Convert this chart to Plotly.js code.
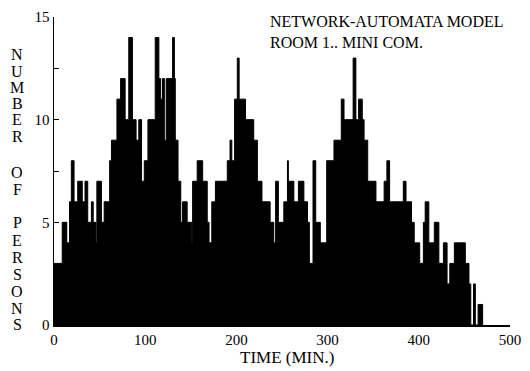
<!DOCTYPE html>
<html>
<head>
<meta charset="utf-8">
<script src="https://cdn.plot.ly/plotly-3.0.1.min.js"></script>
<style>
html,body{margin:0;padding:0;background:#fff;}
#chart{width:530px;height:371px;}
</style>
</head>
<body>
<div id="chart"></div>
<script>
// Step start times (minutes) and number of persons from that time on
const stepTimes = [0,9,14,17,19,22,26,31,34,37,41,43,46,47,52,55,61,63,69,73,78,82,86,90,93,96,99,103,111,115,117,119,121,123,130,132,133,136,139,141,146,151,152,157,163,168,170,173,177,190,193,195,198,201,203,210,219,223,228,237,241,243,246,252,256,257,263,268,274,278,280,284,287,292,299,307,315,318,328,331,334,338,340,344,353,362,365,368,383,386,392,395,401,405,407,411,417,422,427,431,434,439,451,455,457,460,462,465,470];
const persons = [3,5,4,6,8,6,7,6,7,5,6,5,4,7,5,6,8,9,11,12,10,14,10,9,10,7,8,10,14,12,11,12,9,12,14,12,9,7,5,6,5,4,7,8,7,5,4,6,7,8,9,8,11,13,11,10,9,7,6,5,4,7,5,6,8,7,6,7,6,5,3,8,5,4,8,9,11,10,13,10,11,10,9,7,6,7,8,6,7,6,5,4,3,5,6,4,5,3,4,2,3,4,3,2,0,2,0,1,0];
const xTickVals = [0,100,200,300,400,500];
const yTickVals = [0,5,10,15];
const titleLines = ["NETWORK-AUTOMATA MODEL","ROOM 1.. MINI COM."];
const yTitleLetters = ["N","U","M","B","E","R","O","F","P","E","R","S","O","N","S"];
const xTitle = "TIME (MIN.)";

const FONT = "Liberation Serif, DejaVu Serif, Times New Roman, serif";
const W = 530, H = 371;
const M = {l:54, r:20, t:17, b:46};
const plotH = H - M.t - M.b;
const plotW = W - M.l - M.r;

// pixel rows for stacked letters of vertical y title
const letterRows = [55,71,87,103,120,136,172,189,223,240,257,274,291,308,324];
const annotations = yTitleLetters.map((ch,i)=>({
  text: ch, showarrow:false,
  xref:'paper', yref:'paper',
  x: (17 - M.l)/plotW, y: (H - M.b - letterRows[i])/plotH,
  xanchor:'center', yanchor:'middle',
  font:{family:FONT, size:16, color:'#000'}
}));
// x-axis title as annotation for exact placement
annotations.push({
  text: xTitle, showarrow:false,
  xref:'paper', yref:'paper',
  x: (287 - M.l)/plotW, y: (H - M.b - 357)/plotH,
  xanchor:'center', yanchor:'middle',
  font:{family:FONT, size:17, color:'#000'}
});

const trace = {
  x: stepTimes, y: persons,
  type:'scatter', mode:'lines',
  line:{shape:'hv', color:'#000', width:1},
  fill:'tozeroy', fillcolor:'#000',
  hoverinfo:'skip'
};

const layout = {
  width:W, height:H,
  margin:M,
  paper_bgcolor:'#fff', plot_bgcolor:'#fff',
  showlegend:false,
  font:{family:FONT, size:15, color:'#000'},
  title:{
    text: titleLines.join('<br>'),
    font:{family:FONT, size:16, color:'#000'},
    xref:'container', yref:'container',
    x: 270/W, xanchor:'left',
    y: 1 - 27/H, yanchor:'middle'
  },
  xaxis:{
    range:[0,500], tickvals:xTickVals,
    showline:true, linecolor:'#000', linewidth:1.5,
    ticks:'inside', ticklen:4, tickcolor:'#000',
    showgrid:false, zeroline:false,
    tickfont:{family:FONT, size:15, color:'#000'}
  },
  yaxis:{
    range:[0,15], tickvals:yTickVals,
    showline:true, linecolor:'#000', linewidth:1.5,
    ticks:'inside', ticklen:5, tickcolor:'#000',
    minor:{dtick:2.5, ticks:'inside', ticklen:5, tickcolor:'#000', showgrid:false},
    showgrid:false, zeroline:false,
    tickfont:{family:FONT, size:15, color:'#000'}
  },
  annotations: annotations
};

Plotly.newPlot('chart',[trace],layout,{staticPlot:true,displayModeBar:false});
</script>
</body>
</html>
